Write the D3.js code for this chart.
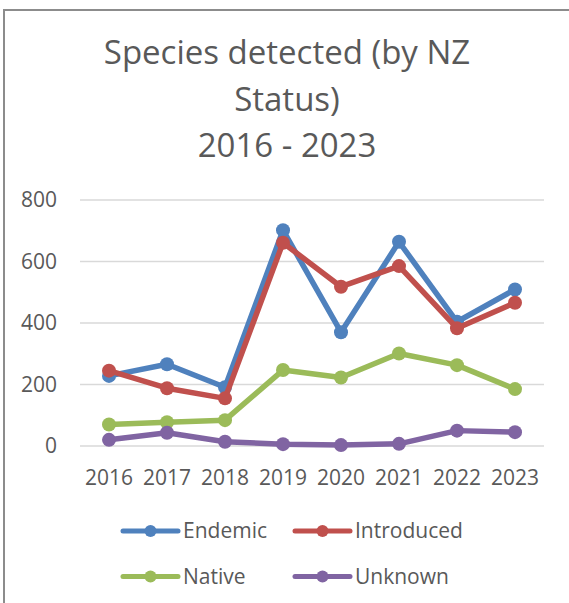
<!DOCTYPE html>
<html>
<head>
	<meta charset="utf-8">
	<title>Species detected</title>
	<style>
		html, body { margin: 0; padding: 0; background: #fff; }
		svg { display: block; }
	</style>
</head>
<body>
<svg width="569" height="603"></svg>
<script src="https://cdn.jsdelivr.net/npm/d3@7"></script>
<script>
	// data
	const years = ["2016", "2017", "2018", "2019", "2020", "2021", "2022", "2023"]
	const endemic = [228, 266, 191, 702, 370, 664, 404, 509]
	const introduced = [245, 188, 155, 661, 518, 585, 383, 466]
	const native = [70, 77, 84, 247, 223, 301, 263, 185]
	const unknown = [20, 43, 14, 6, 3, 7, 50, 45]
	const yTicks = [0, 200, 400, 600, 800]
	const titleLines = ["Species detected (by NZ", "Status)", "2016 - 2023"]

	const series = [
		{ name: "Endemic", values: endemic, color: "#4F81BD" },
		{ name: "Introduced", values: introduced, color: "#C0504D" },
		{ name: "Native", values: native, color: "#9BBB59" },
		{ name: "Unknown", values: unknown, color: "#8064A2" }
	]

	const font = "'Open Sans', sans-serif"
	const txtCol = "#595959"
	const svg = d3.select("svg")

	// outer frame (right & bottom run off the picture)
	svg.append("rect")
		.attr("x", 4).attr("y", 10).attr("width", 600).attr("height", 620)
		.attr("fill", "none").attr("stroke", "#8c8c8c").attr("stroke-width", 2)

	// title
	svg.append("g").selectAll("text").data(titleLines).enter().append("text")
		.attr("x", 287).attr("y", (d, i) => 64 + i * 46.5)
		.attr("text-anchor", "middle")
		.attr("font-family", font).attr("font-size", 33)
		.attr("fill", txtCol)
		.text(d => d)

	// scales
	const x = d3.scaleBand().domain(years).range([80, 544])
	const y = d3.scaleLinear().domain([0, 800]).range([446, 200])
	const cx = d => x(d) + x.bandwidth() / 2

	// gridlines
	svg.append("g").selectAll("line").data(yTicks).enter().append("line")
		.attr("x1", 80).attr("x2", 544)
		.attr("y1", d => y(d)).attr("y2", d => y(d))
		.attr("stroke", "#d9d9d9").attr("stroke-width", 1.5)

	// y axis labels
	const yAxis = svg.append("g")
		.attr("transform", "translate(80,0)")
		.call(d3.axisLeft(y).tickValues(yTicks).tickSize(0).tickPadding(23))
	yAxis.select(".domain").remove()
	yAxis.selectAll("text")
		.attr("font-family", font).attr("font-size", 21).attr("fill", txtCol)

	// x axis labels
	const xAxis = svg.append("g")
		.attr("transform", "translate(0,446)")
		.call(d3.axisBottom(x).tickSize(0).tickPadding(24))
	xAxis.select(".domain").remove()
	xAxis.selectAll("text")
		.attr("font-family", font).attr("font-size", 21).attr("fill", txtCol)

	// lines + markers
	const line = d3.line().x((d, i) => cx(years[i])).y(d => y(d))
	series.forEach(s => {
		const g = svg.append("g")
		g.append("path")
			.attr("d", line(s.values))
			.attr("fill", "none").attr("stroke", s.color)
			.attr("stroke-width", 5.5).attr("stroke-linejoin", "round")
		g.selectAll("circle").data(s.values).enter().append("circle")
			.attr("cx", (d, i) => cx(years[i])).attr("cy", d => y(d))
			.attr("r", 7).attr("fill", s.color)
	})

	// legend
	const legend = svg.append("g")
	series.forEach((s, i) => {
		const lx = 123 + (i % 2) * 172
		const ly = 531 + Math.floor(i / 2) * 45.5
		const item = legend.append("g").attr("transform", `translate(${lx},${ly})`)
		item.append("line")
			.attr("x1", 0).attr("x2", 55).attr("y1", 0).attr("y2", 0)
			.attr("stroke", s.color).attr("stroke-width", 5).attr("stroke-linecap", "round")
		item.append("circle").attr("cx", 27.5).attr("cy", 0).attr("r", 6).attr("fill", s.color)
		item.append("text")
			.attr("x", 60).attr("y", 0).attr("dy", "0.35em")
			.attr("font-family", font).attr("font-size", 21).attr("fill", txtCol)
			.text(s.name)
	})
</script>
</body>
</html>
